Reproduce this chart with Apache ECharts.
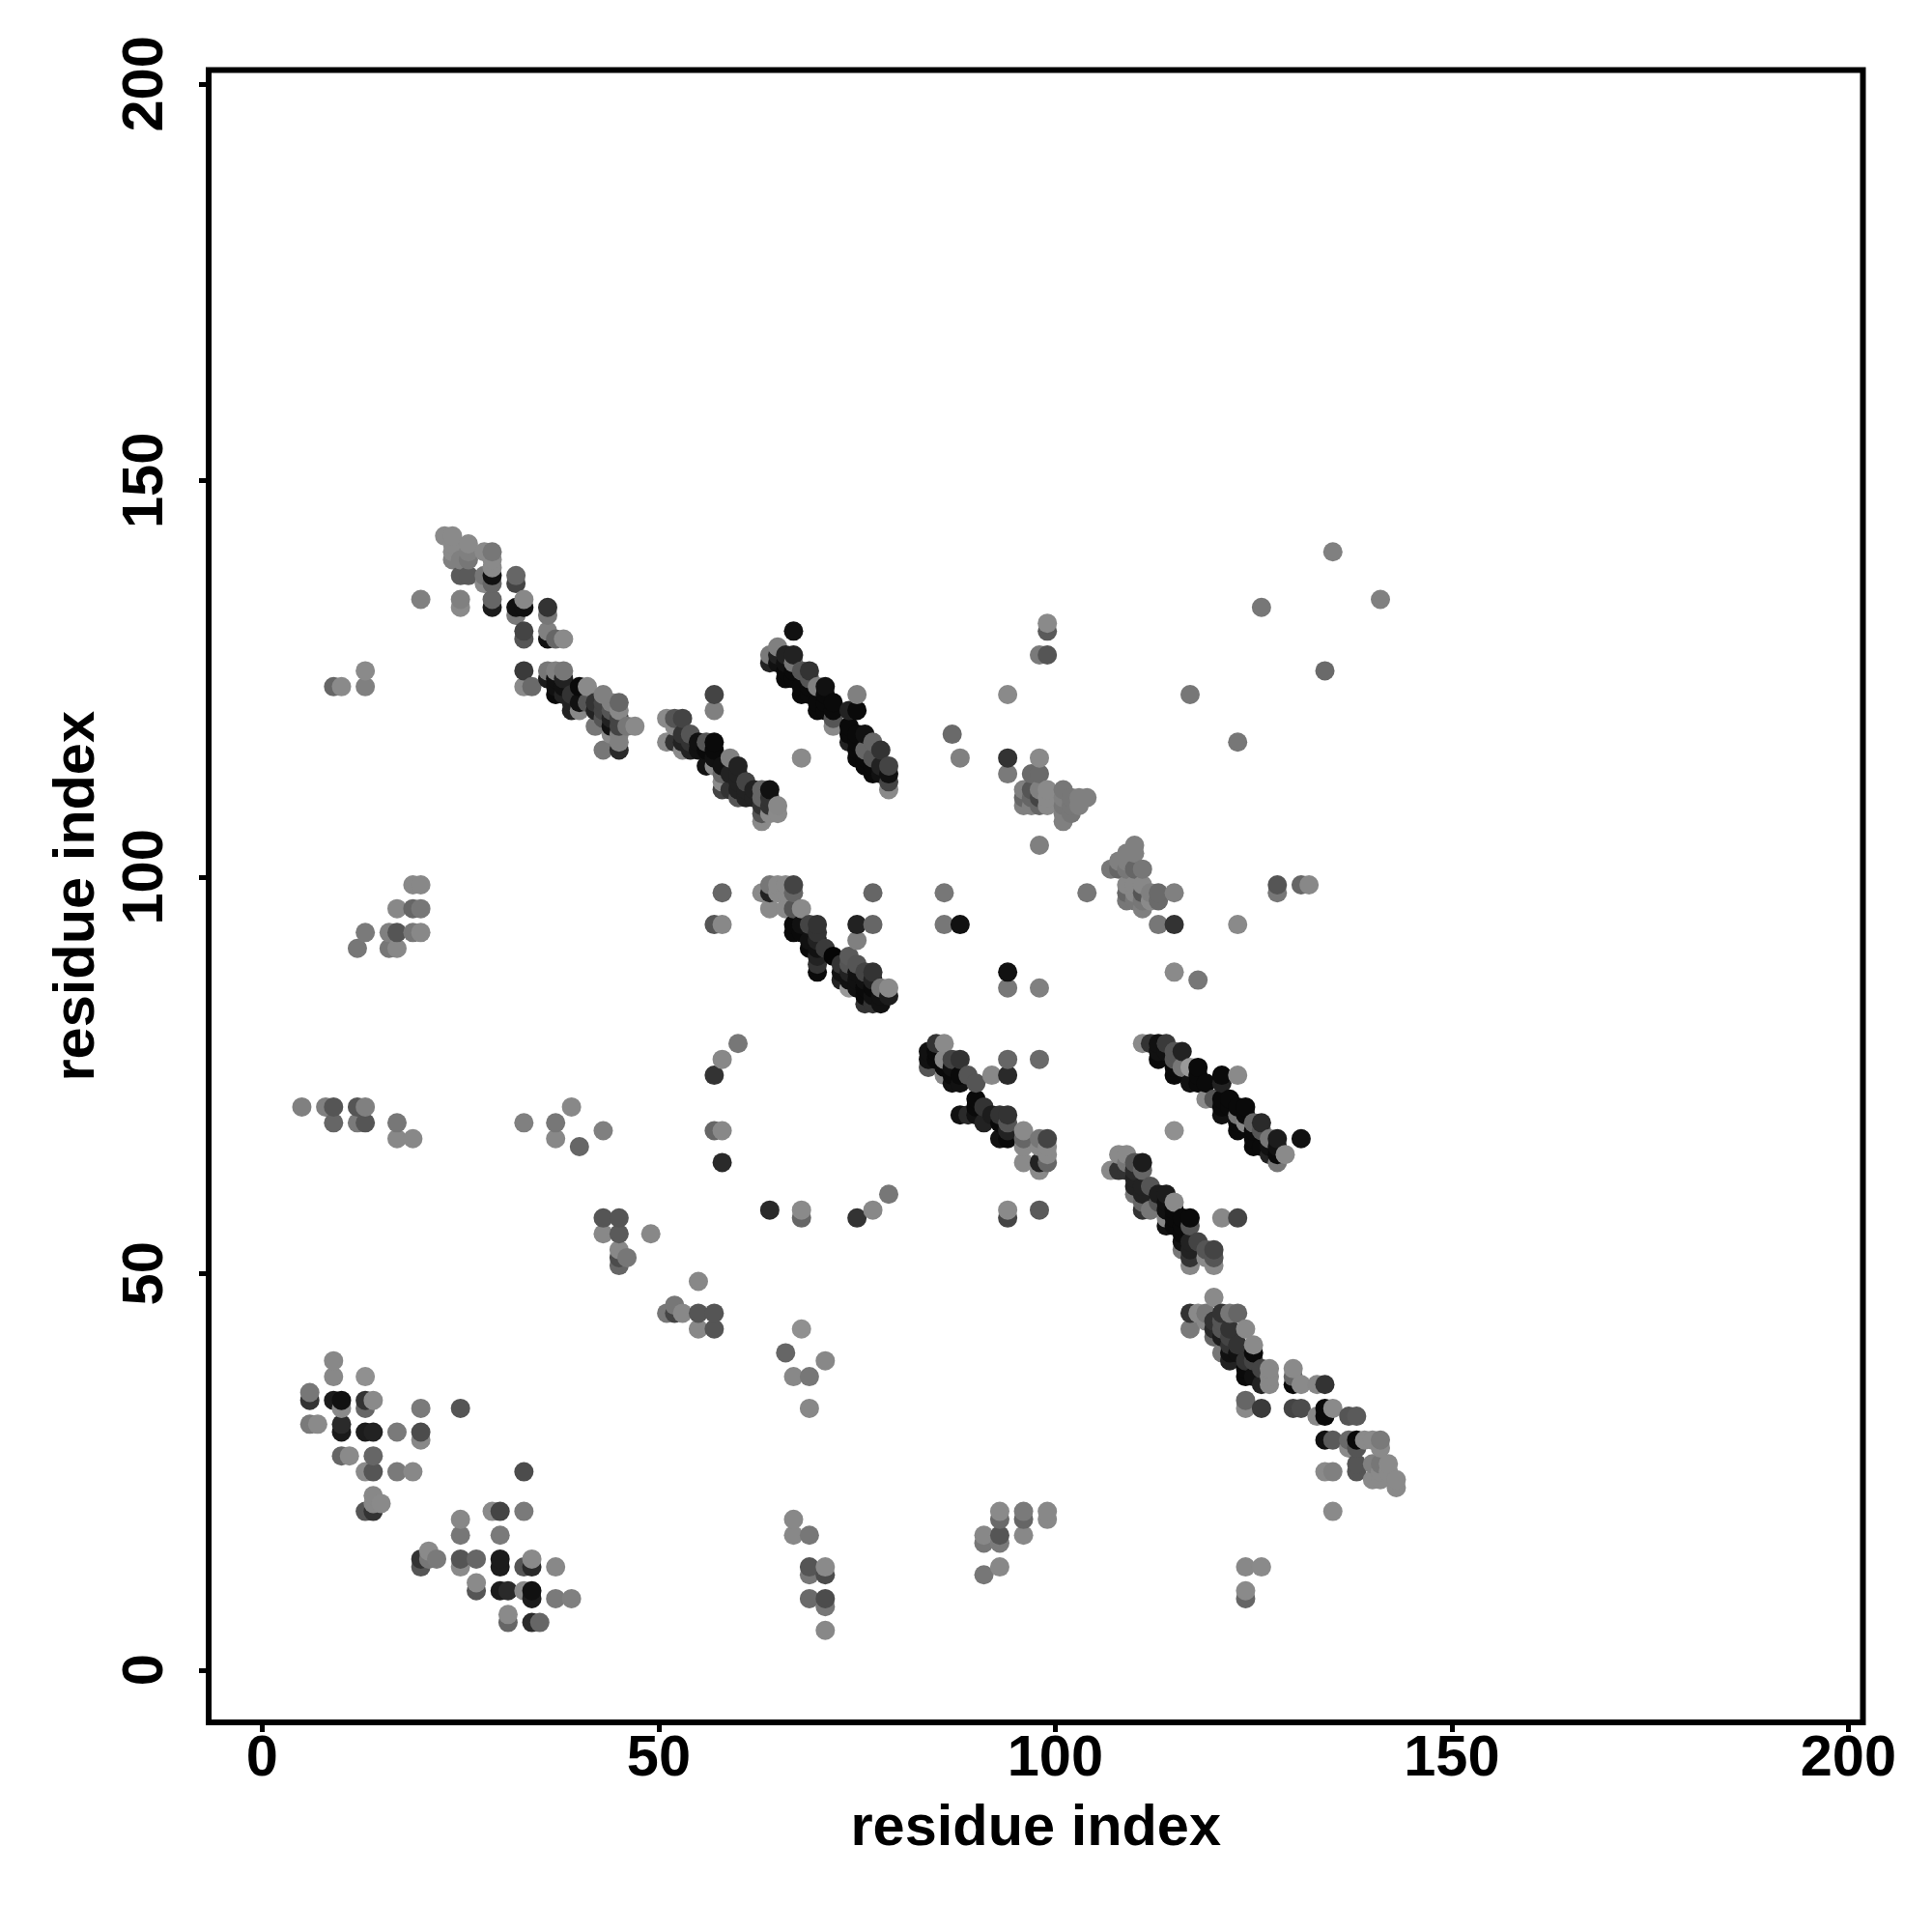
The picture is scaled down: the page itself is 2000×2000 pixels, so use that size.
<!DOCTYPE html>
<html><head><meta charset="utf-8">
<style>html,body{margin:0;padding:0;background:#fff}#c{width:2000px;height:2000px}</style>
<script src="https://cdn.jsdelivr.net/npm/echarts@6/dist/echarts.min.js"></script>
</head><body><div id="c"></div>
<script>
const tickValues = [0, 50, 100, 150, 200];
const axisTitle = 'residue index';
// each contact: [x residue, y residue, grey level]
const lowerLeft = [[9,39,0x88],[9,37,0x88],[13,37,0x90],[6,35,0x77],[6,34,0x33],[9,34,0x1c],[10,34,0x11],[10,33,0x8a],[13,34,0x33],[13,33,0x66],[14,34,0x8a],[20,33,0x7a],[25,33,0x55],[6,31,0x7a],[7,31,0x8a],[10,31,0x2a],[10,30,0x1a],[13,30,0x1c],[14,30,0x22],[17,30,0x7a],[20,30,0x4c],[20,29,0x88],[10,27,0x66],[11,27,0x8a],[14,27,0x66],[13,25,0x8a],[14,25,0x55],[17,25,0x7a],[19,25,0x88],[33,25,0x4c],[14,22,0x88],[14,21,0x88],[15,21,0x8a],[13,20,0x55],[14,20,0x33],[25,19,0x88],[25,17,0x77],[29,20,0x8a],[30,20,0x44],[33,20,0x7a],[30,17,0x7a],[20,14,0x33],[20,13,0x55],[21,15,0x8a],[21,14,0x77],[22,14,0x7a],[25,14,0x55],[25,13,0x8a],[27,14,0x66],[30,14,0x1c],[30,13,0x1c],[33,13,0x55],[34,13,0x2a],[34,14,0x8a],[37,13,0x88],[27,11,0x8a],[27,10,0x55],[30,10,0x1c],[31,10,0x2a],[33,10,0x8a],[34,10,0x11],[34,9,0x1c],[37,9,0x7a],[39,9,0x80],[31,7,0x8a],[31,6,0x66],[34,6,0x2a],[35,6,0x66]];
const lowerMiddle = [[55,49,0x88],[53,45,0x88],[52,46,0x77],[51,45,0x77],[52,45,0x44],[55,45,0x55],[57,45,0x55],[55,43,0x88],[57,43,0x55],[68,43,0x90],[66,40,0x66],[71,39,0x88],[67,37,0x88],[69,37,0x77],[69,33,0x88],[67,19,0x88],[67,17,0x88],[69,17,0x77],[69,13,0x55],[69,12,0x77],[71,13,0x8a],[71,12,0x4c],[69,9,0x6a],[71,9,0x4c],[71,8,0x77],[71,5,0x88],[93,20,0x8a],[93,19,0x6a],[96,20,0x7a],[96,19,0x66],[99,20,0x88],[99,19,0x88],[91,17,0x88],[91,16,0x77],[93,17,0x55],[93,16,0x7a],[96,17,0x88],[93,13,0x88],[91,12,0x77],[124,13,0x88],[126,13,0x8a],[124,10,0x8a],[124,9,0x66]];
const midLeft = [[5,71,0x80],[8,71,0x80],[9,71,0x55],[9,69,0x66],[12,71,0x55],[13,71,0x80],[12,69,0x7a],[13,69,0x55],[17,69,0x77],[17,67,0x88],[19,67,0x88],[33,69,0x80],[37,69,0x77],[37,67,0x88],[39,71,0x88],[43,68,0x80],[40,66,0x66],[60,79,0x77],[58,77,0x88],[57,75,0x33],[57,68,0x66],[58,68,0x88],[58,64,0x2a],[64,58,0x2a],[68,58,0x8a],[68,57,0x66],[75,57,0x33],[77,58,0x88],[79,60,0x77],[43,57,0x55],[45,57,0x55],[43,55,0x88],[45,55,0x5a],[49,55,0x88],[45,53,0x88],[46,52,0x77],[45,52,0x4c],[45,51,0x66]];
const upperLeftPatch = [[19,99,0x88],[20,99,0x88],[17,96,0x88],[19,96,0x66],[20,96,0x77],[13,93,0x7a],[16,93,0x80],[17,93,0x55],[19,93,0x77],[20,93,0x88],[12,91,0x77],[16,91,0x77],[17,91,0x88],[58,98,0x66],[57,94,0x55],[58,94,0x88]];
const strandCentre = [[63,98,0x8a],[64,99,0x77],[65,99,0x8a],[66,99,0x8a],[67,99,0x44],[64,98,0x22],[65,98,0x8a],[66,98,0x8a],[67,98,0x66],[64,96,0x8a],[66,96,0x8a],[67,96,0x55],[68,96,0x8a],[67,94,0x0a],[67,93,0x0a],[68,94,0x11],[68,93,0x0a],[69,94,0x44],[70,94,0x33],[70,93,0x33],[69,92,0x11],[69,91,0x0a],[70,92,0x22],[70,91,0x11],[70,90,0x22],[70,89,0x33],[70,88,0x0a],[71,91,0x3a],[72,90,0x05],[75,94,0x22],[77,94,0x66],[75,92,0x80],[77,98,0x66],[74,90,0x5a],[74,89,0x55],[73,89,0x33],[73,88,0x11],[73,87,0x22],[75,89,0x55],[74,88,0x22],[75,88,0x11],[76,88,0x44],[77,88,0x33],[74,87,0x11],[75,87,0x11],[76,87,0x11],[77,87,0x22],[74,86,0x99],[75,86,0x11],[76,86,0x0a],[77,86,0x0a],[78,86,0x77],[79,86,0x8a],[79,85,0x1c],[78,85,0x11],[77,85,0x11],[76,85,0x0a],[76,84,0x33],[77,84,0x33],[78,84,0x11],[86,98,0x77],[86,94,0x77],[88,94,0x11],[94,88,0x11],[94,86,0x77],[98,86,0x80]];
const strandD = [[86,79,0x8a],[85,79,0x33],[84,78,0x11],[84,77,0x11],[84,76,0x55],[85,78,0x0a],[85,77,0x0a],[86,77,0x88],[86,76,0x0a],[86,75,0x8a],[87,77,0x44],[88,77,0x33],[87,76,0x11],[87,75,0x0a],[87,74,0x11],[88,75,0x0a],[88,74,0x11],[89,75,0x55],[90,74,0x55],[92,75,0x88],[94,77,0x66],[94,75,0x2a],[98,77,0x6a],[90,72,0x0a],[90,71,0x0a],[91,71,0x33],[88,70,0x11],[89,70,0x2a],[90,70,0x11],[91,69,0x22],[92,70,0x1c],[93,70,0x33],[94,70,0x33],[93,69,0x0a],[94,69,0x55],[93,67,0x11],[94,67,0x0a],[94,68,0x22],[96,68,0x8a],[96,67,0x66],[96,66,0x8a],[96,64,0x8a],[98,67,0x77],[99,67,0x44],[98,66,0x8a],[99,66,0x8a],[99,65,0x8a],[98,64,0x22],[99,64,0x66],[98,63,0x8a],[94,58,0x8a],[94,57,0x44],[98,58,0x5a],[115,68,0x90]];
const strandRight = [[111,79,0x8a],[112,79,0x33],[113,79,0x11],[114,79,0x3a],[113,78,0x11],[113,77,0x0a],[116,78,0x22],[115,78,0x55],[115,77,0x55],[114,78,0x11],[115,76,0x0a],[115,75,0x0a],[116,76,0x77],[117,76,0x99],[118,76,0x0a],[118,75,0x0a],[117,74,0x11],[118,74,0x0a],[119,74,0x0a],[121,75,0x0a],[123,75,0x8a],[121,74,0x22],[119,72,0x8a],[120,72,0x55],[121,72,0x0a],[122,72,0x0a],[121,71,0x0a],[122,71,0x0a],[121,70,0x11],[124,71,0x0a],[123,70,0x77],[123,71,0x0a],[123,69,0x0a],[123,68,0x0a],[124,70,0x0a],[124,69,0x88],[125,69,0x66],[126,69,0x2a],[125,68,0x0a],[125,67,0x0a],[125,66,0x0a],[126,68,0x55],[127,67,0x77],[128,67,0x1c],[127,66,0x11],[128,66,0x11],[126,66,0x0a],[127,65,0x22],[128,65,0x0a],[129,65,0x8a],[128,64,0x77],[131,67,0x11]];
const strandA = [[108,65,0x8a],[109,65,0x8a],[107,63,0x8a],[110,64,0x55],[111,64,0x1c],[111,63,0x66],[109,64,0x77],[108,63,0x33],[109,63,0x33],[110,63,0x2a],[110,62,0x22],[110,61,0x22],[110,60,0x77],[111,61,0x22],[111,60,0x22],[111,59,0x66],[111,58,0x33],[112,61,0x55],[113,60,0x1c],[114,60,0x1c],[113,59,0x55],[112,58,0x77],[115,59,0x8a],[114,59,0x11],[114,58,0x11],[114,57,0x88],[114,56,0x11],[115,58,0x0a],[115,57,0x0a],[115,56,0x0a],[116,57,0x0a],[116,56,0x0a],[117,57,0x0a],[117,56,0x55],[116,55,0x0a],[116,54,0x11],[116,53,0x77],[117,54,0x22],[117,53,0x22],[117,52,0x33],[117,51,0x88],[118,54,0x44],[119,53,0x55],[120,53,0x44],[120,52,0x55],[120,51,0x8a],[119,52,0x8a],[121,57,0x88],[123,57,0x44]];
const strandB = [[120,47,0x8a],[117,45,0x33],[118,45,0x8a],[119,45,0x77],[121,45,0x33],[122,45,0x77],[123,45,0x66],[117,43,0x7a],[120,44,0x33],[119,44,0x88],[120,43,0x2a],[120,42,0x66],[121,44,0x55],[121,43,0x55],[121,42,0x1c],[121,40,0x77],[122,43,0x33],[122,42,0x44],[122,41,0x33],[122,40,0x11],[122,39,0x22],[124,43,0x8a],[123,41,0x33],[123,40,0x11],[125,41,0x8a],[125,40,0x0a],[124,39,0x33],[124,38,0x0a],[124,37,0x0a],[125,39,0x44],[125,37,0x11],[126,38,0x44],[126,36,0x22],[127,38,0x88],[127,37,0x88],[127,36,0x88],[124,34,0x66],[124,33,0x8a],[126,33,0x3a],[130,38,0x8a],[130,37,0x66],[130,36,0x0a],[131,36,0x8a],[133,36,0x88],[134,36,0x33],[130,33,0x44],[131,33,0x4c],[133,32,0x88],[134,33,0x0a],[134,32,0x0a],[135,33,0x8a],[137,32,0x55],[138,32,0x5a],[134,29,0x11],[135,29,0x5a],[137,29,0x6a],[137,28,0x8a],[138,29,0x0a],[138,28,0x55],[139,29,0x8a],[140,29,0x8a],[141,29,0x7a],[141,28,0x8a],[138,26,0x55],[138,25,0x55],[140,26,0x80],[141,26,0x77],[142,26,0x8a],[140,24,0x8a],[141,24,0x8a],[141,25,0x8a],[142,25,0x8a],[143,24,0x8a],[143,23,0x8a],[134,25,0x8a],[135,25,0x80],[135,20,0x8a]];
const strandE = [[57,123,0x44],[57,121,0x80],[68,115,0x8a],[51,120,0x8a],[51,117,0x8a],[52,120,0x55],[53,120,0x44],[52,119,0x8a],[52,117,0x33],[53,117,0x22],[53,118,0x33],[54,118,0x55],[53,116,0x8a],[54,117,0x33],[54,116,0x22],[55,117,0x11],[55,116,0x11],[56,117,0x55],[57,117,0x0a],[56,116,0x0a],[57,116,0x0a],[56,114,0x11],[57,115,0x11],[57,114,0x88],[58,114,0x11],[59,115,0x80],[60,114,0x22],[58,113,0x66],[59,113,0x22],[60,113,0x22],[58,112,0x8a],[58,111,0x44],[59,111,0x33],[60,112,0x22],[60,111,0x22],[60,110,0x55],[61,112,0x44],[61,111,0x22],[61,110,0x22],[62,111,0x22],[62,110,0x22],[63,111,0x66],[64,111,0x11],[63,110,0x66],[64,110,0x33],[63,109,0x33],[64,109,0x33],[65,109,0x88],[65,108,0x8a],[63,108,0x55],[63,107,0x8a],[64,108,0x8a]];
const strandF = [[67,131,0x11],[65,129,0x80],[64,128,0x7a],[65,128,0x22],[64,127,0x22],[65,127,0x11],[66,128,0x22],[67,128,0x22],[66,127,0x11],[67,127,0x77],[66,126,0x0a],[66,125,0x0a],[67,126,0x0a],[67,125,0x0a],[68,126,0x55],[69,126,0x33],[68,124,0x0a],[68,123,0x0a],[69,125,0x55],[69,124,0x0a],[69,123,0x0a],[70,124,0x80],[71,124,0x11],[70,122,0x0a],[70,121,0x0a],[71,123,0x0a],[71,122,0x0a],[71,121,0x0a],[72,122,0x0a],[72,121,0x0a],[72,120,0x55],[72,119,0x8a],[74,121,0x22],[75,121,0x0a],[75,123,0x80],[74,119,0x0a],[74,118,0x0a],[74,117,0x22],[75,118,0x0a],[75,117,0x0a],[75,115,0x0a],[76,118,0x11],[75,116,0x0a],[76,116,0x66],[76,115,0x0a],[76,114,0x0a],[78,116,0x33],[77,117,0x66],[77,115,0x55],[77,114,0x0a],[77,113,0x0a],[78,114,0x22],[79,114,0x44],[79,113,0x11],[79,112,0x44],[79,111,0x8a],[78,113,0x11]];
const strandTop = [[20,135,0x80],[25,135,0x80],[25,134,0x8a],[9,124,0x66],[10,124,0x8a],[13,126,0x8a],[13,124,0x80],[23,143,0x8a],[24,143,0x8a],[24,142,0x8a],[26,142,0x8a],[24,141,0x8a],[26,141,0x80],[28,141,0x8a],[29,141,0x77],[24,140,0x80],[25,140,0x80],[26,140,0x77],[29,140,0x8a],[29,139,0x8a],[25,138,0x5a],[26,138,0x5a],[28,138,0x77],[28,137,0x8a],[29,138,0x11],[29,137,0x66],[32,138,0x66],[32,137,0x44],[29,135,0x66],[29,134,0x1c],[32,134,0x11],[33,134,0x11],[33,135,0x88],[32,133,0x7a],[36,134,0x33],[36,133,0x77],[33,131,0x44],[33,130,0x55],[36,131,0x80],[36,130,0x11],[37,130,0x66],[38,130,0x8a],[33,126,0x3a],[33,124,0x8a],[34,124,0x6a],[36,126,0x77],[36,125,0x1c],[37,126,0x80],[38,126,0x77],[37,125,0x11],[37,124,0x11],[37,123,0x0a],[38,125,0x22],[38,124,0x11],[38,123,0x22],[39,123,0x33],[39,122,0x22],[39,121,0x22],[40,124,0x0a],[41,124,0x8a],[40,122,0x11],[40,121,0x88],[41,122,0x55],[42,122,0x33],[42,121,0x22],[43,123,0x80],[43,122,0x44],[43,121,0x44],[43,120,0x55],[42,119,0x77],[44,122,0x80],[45,122,0x66],[45,121,0x88],[44,121,0x55],[44,120,0x22],[45,120,0x44],[44,119,0x11],[45,119,0x44],[46,119,0x77],[47,119,0x8a],[45,118,0x80],[45,117,0x80],[45,116,0x2a],[44,118,0x8a],[43,116,0x77]];
const upperPatches = [[99,132,0x8a],[99,131,0x5a],[98,128,0x7a],[99,128,0x55],[94,123,0x8a],[117,123,0x77],[126,134,0x77],[141,135,0x80],[135,141,0x80],[134,126,0x6a],[123,117,0x77],[87,118,0x6a],[88,115,0x80],[94,115,0x33],[98,115,0x8a],[94,113,0x7a],[97,113,0x6a],[98,113,0x6a],[96,111,0x80],[96,110,0x66],[96,109,0x80],[97,111,0x55],[97,110,0x66],[97,109,0x80],[98,110,0x44],[98,109,0x66],[98,111,0x80],[99,111,0x8a],[99,110,0x8a],[99,109,0x8a],[101,111,0x77],[101,110,0x80],[101,109,0x77],[101,108,0x80],[101,107,0x80],[102,110,0x77],[102,109,0x77],[102,108,0x77],[103,110,0x80],[103,109,0x80],[104,110,0x80],[98,104,0x80],[104,98,0x77],[110,104,0x80],[109,103,0x80],[110,103,0x80],[108,102,0x80],[109,102,0x80],[107,101,0x77],[108,101,0x66],[109,101,0x77],[110,101,0x66],[111,101,0x77],[109,99,0x88],[110,99,0x88],[111,99,0x88],[109,98,0x66],[110,98,0x88],[111,98,0x55],[112,98,0x80],[113,98,0x6a],[109,97,0x77],[110,97,0x77],[111,97,0x77],[112,97,0x8a],[113,97,0x6a],[111,96,0x80],[115,98,0x80],[113,94,0x77],[115,94,0x33],[123,94,0x8a],[128,99,0x55],[128,98,0x77],[131,99,0x66],[132,99,0x88],[115,88,0x8a],[118,87,0x77]];

const contacts = [].concat(lowerLeft, lowerMiddle, midLeft, upperLeftPatch, strandCentre, strandD, strandRight, strandA, strandB, strandE, strandF, strandTop, upperPatches)
  .sort((a, b) => a[0] - b[0] || a[1] - b[1]);

const greyCss = g => 'rgb(' + g + ',' + g + ',' + g + ')';
const fontFamily = '"Liberation Sans", Arial, sans-serif';
const labelFont = { color: '#000', fontFamily: fontFamily, fontWeight: 'bold', fontSize: 59.5 };

const chart = echarts.init(document.getElementById('c'), null, { renderer: 'canvas' });
chart.setOption({
  animation: false,
  backgroundColor: '#fff',
  grid: { left: 216, top: 72.5, width: 1712.5, height: 1710.5, show: true, backgroundColor: 'transparent', borderColor: '#000', borderWidth: 6, containLabel: false },
  xAxis: {
    type: 'value', min: -6.75, max: 201.84, position: 'bottom',
    name: axisTitle, nameLocation: 'middle', nameGap: 81, nameMoveOverlap: false, nameTextStyle: labelFont,
    axisLine: { show: false, onZero: false }, splitLine: { show: false },
    axisTick: { show: true, length: 10, lineStyle: { color: '#000', width: 5 }, customValues: tickValues },
    axisLabel: Object.assign({ margin: 9, customValues: tickValues, hideOverlap: false, showMinLabel: true, showMaxLabel: true, formatter: v => String(v) }, labelFont)
  },
  yAxis: {
    type: 'value', min: -6.6, max: 201.75, position: 'left',
    name: axisTitle, nameLocation: 'middle', nameGap: 105, nameMoveOverlap: false, nameRotate: 90, nameTextStyle: labelFont,
    axisLine: { show: false, onZero: false }, splitLine: { show: false },
    axisTick: { show: true, length: 10, lineStyle: { color: '#000', width: 5 }, customValues: tickValues },
    axisLabel: Object.assign({ margin: 34, rotate: 90, customValues: tickValues, hideOverlap: false, showMinLabel: true, showMaxLabel: true, formatter: v => String(v) }, labelFont)
  },
  series: [{
    type: 'scatter', symbol: 'circle', symbolSize: 20, silent: true, large: false, progressive: 0,
    data: contacts.map(c => ({ value: [c[0], c[1]], itemStyle: { color: greyCss(c[2]), opacity: 1 } }))
  }]
});
</script></body></html>
